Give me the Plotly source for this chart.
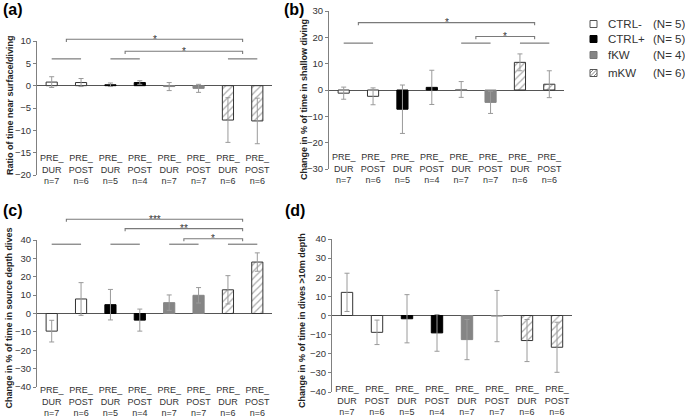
import plotly.graph_objects as go

# ---------------- data ----------------
groups = ["CTRL-", "CTRL+", "fKW", "mKW"]
group_N = [5, 5, 4, 6]
periods = ["PRE_<br>DUR", "PRE_<br>POST"]
n_per_bar = [7, 6, 5, 4, 7, 7, 6, 6]

a_mean = [0.8, 0.7, 0.2, 0.7, -0.2, -0.6, -7.7, -7.9]
a_err = [1.2, 0.9, 0.4, 0.4, 0.9, 0.9, 5.0, 5.1]
b_mean = [-1.2, -2.4, -7.3, 1.0, 0.2, -4.7, 10.5, 2.2]
b_err = [2.3, 3.2, 9.2, 6.5, 3.0, 4.2, 3.2, 5.1]
c_mean = [-9.6, 7.9, 4.8, -3.6, 5.9, 9.9, 12.9, 28.0]
c_err = [5.9, 8.9, 8.3, 6.0, 4.2, 4.2, 7.7, 5.0]
d_mean = [12.1, -8.8, -1.7, -9.1, -12.6, -0.3, -13.1, -16.6]
d_err = [10.0, 6.4, 12.6, 9.6, 10.5, 13.4, 11.0, 13.1]

# significance: short pair lines (bar index pairs) and brackets (x0, x1, y, label)
a_pairs, a_pair_y = [(0, 1), (2, 3), (6, 7)], 6.0
a_brackets = [(0.5, 6.5, 10.4, "*"), (2.5, 6.5, 7.7, "*")]
b_pairs, b_pair_y = [(0, 1), (4, 5), (6, 7)], 17.8
b_brackets = [(0.5, 6.5, 25.6, "*"), (4.5, 6.5, 20.3, "*")]
c_pairs, c_pair_y = [(0, 1), (2, 3), (4, 5), (6, 7)], 37.7
c_brackets = [(0.5, 6.5, 51.3, "***"), (2.5, 6.5, 46.2, "**"), (4.5, 6.5, 40.7, "*")]
d_pairs, d_pair_y = [], 0
d_brackets = []

# ---------------- layout config ----------------
W, H = 685, 417
FONT = "Liberation Sans, Arial, sans-serif"

panels = [
    dict(mean=a_mean, err=a_err, rng=[-20, 10], dt=5, label="(a)",
         title="Ratio of time near surface/diving", title_xy=(10, 105),
         xpx=[37, 272], ypx=[41, 175], labtop=151, lab_xy=(1, 10),
         pairs=a_pairs, pair_y=a_pair_y, brackets=a_brackets, drop=0.6),
    dict(mean=b_mean, err=b_err, rng=[-30, 30], dt=10, label="(b)",
         title="Change in % of time in shallow diving", title_xy=(304, 100),
         xpx=[329, 564], ypx=[11, 169], labtop=150, lab_xy=(282, 10),
         pairs=b_pairs, pair_y=b_pair_y, brackets=b_brackets, drop=1.0),
    dict(mean=c_mean, err=c_err, rng=[-40, 40], dt=10, label="(c)",
         title="Change in % of time in source depth dives", title_xy=(8.5, 318),
         xpx=[37, 272], ypx=[240, 387], labtop=383, lab_xy=(1, 211),
         pairs=c_pairs, pair_y=c_pair_y, brackets=c_brackets, drop=1.4),
    dict(mean=d_mean, err=d_err, rng=[-40, 40], dt=10, label="(d)",
         title="Change in % of time in dives >10m depth", title_xy=(302, 321),
         xpx=[332, 572], ypx=[239, 392], labtop=382, lab_xy=(283, 211),
         pairs=d_pairs, pair_y=d_pair_y, brackets=d_brackets, drop=1.4),
]

styles = [
    dict(color="white", line=dict(color="#333333", width=1)),
    dict(color="black", line=dict(color="black", width=1)),
    dict(color="#858585", line=dict(color="#858585", width=1)),
    dict(color="white", line=dict(color="#333333", width=1),
         pattern=dict(shape="/", fgcolor="#555555", bgcolor="white", size=5, solidity=0.25)),
]
legend_swatch = [("white", "#555555"), ("black", "black"), ("#858585", "#777777"), ("white", "#555555")]


def px(xp):
    return xp / W


def py(yp):
    return 1 - yp / H


fig = go.Figure()
shapes, annotations = [], []
layout = {}

for i, p in enumerate(panels):
    sfx = "" if i == 0 else str(i + 1)
    xa, ya = "x" + sfx, "y" + sfx
    for g, name in enumerate(groups):
        idx = [2 * g, 2 * g + 1]
        fig.add_trace(go.Bar(
            x=idx, y=[p["mean"][k] for k in idx],
            error_y=dict(type="data", array=[p["err"][k] for k in idx],
                         color="#9a9a9a", thickness=1, width=2.5),
            width=0.38, marker=styles[g], name=name, showlegend=False,
            xaxis=xa, yaxis=ya, cliponaxis=False,
        ))

    lo, hi = p["rng"]
    xdom = [px(p["xpx"][0]), px(p["xpx"][1])]
    ydom = [py(p["ypx"][1]), py(p["ypx"][0])]
    ticktext = [periods[k % 2] + "<br>n=" + str(n_per_bar[k]) for k in range(8)]
    layout["xaxis" + sfx] = dict(
        domain=xdom, range=[-0.5, 7.5], anchor="free", position=py(p["labtop"]),
        tickvals=list(range(8)), ticktext=ticktext, showline=False, ticks="",
        showgrid=False, zeroline=False, automargin=False,
        tickfont=dict(size=9, color="#333333", family=FONT),
    )
    layout["yaxis" + sfx] = dict(
        domain=ydom, range=[lo, hi], anchor=xa, automargin=False,
        tickvals=list(range(lo, hi + 1, p["dt"])),
        showline=True, linecolor="#808080", linewidth=1,
        ticks="outside", ticklen=3, tickcolor="#808080",
        showgrid=False, zeroline=True, zerolinecolor="#555555", zerolinewidth=1,
        tickfont=dict(size=9.5, color="#333333", family=FONT),
    )
    # axis title (rotated, placed precisely)
    annotations.append(dict(x=px(p["title_xy"][0]), y=py(p["title_xy"][1]),
                            xref="paper", yref="paper", text=p["title"], textangle=-90,
                            showarrow=False, xanchor="center", yanchor="middle",
                            font=dict(size=9, family=FONT, color="#222222", weight="bold")))

    def yd(v, lo=lo, hi=hi):
        return (v - lo) / (hi - lo)

    yref = ya + " domain"
    for (s, e) in p["pairs"]:
        shapes.append(dict(type="line", xref=xa, yref=yref, x0=s, x1=e,
                           y0=yd(p["pair_y"]), y1=yd(p["pair_y"]),
                           line=dict(color="#7a7a7a", width=1.2)))
    for (x0, x1, yv, lab) in p["brackets"]:
        yb, yt = yd(yv - p["drop"]), yd(yv)
        shapes.append(dict(type="path", xref=xa, yref=yref,
                           path=f"M{x0},{yb} L{x0},{yt} L{x1},{yt} L{x1},{yb}",
                           line=dict(color="#7a7a7a", width=1.1)))
        annotations.append(dict(x=(x0 + x1) / 2, y=yt, xref=xa, yref=yref,
                                text=lab, showarrow=False, yanchor="middle",
                                font=dict(size=10, color="#333333", family=FONT)))

    annotations.append(dict(x=px(p["lab_xy"][0]), y=py(p["lab_xy"][1]),
                            xref="paper", yref="paper", text=p["label"], showarrow=False,
                            xanchor="left", yanchor="middle",
                            font=dict(size=16, color="black", family=FONT, weight="bold")))

# ---------------- legend (drawn manually for small square swatches) ----------------
leg_rows = [24, 39, 55, 73]
sw_x0, sw_x1, sw_h = 590, 597, 3.5
name_x, n_x = 606, 651

for g in range(4):
    r = leg_rows[g]
    fill, line = legend_swatch[g]
    shapes.append(dict(type="rect", xref="paper", yref="paper",
                       x0=px(sw_x0), x1=px(sw_x1), y0=py(r + sw_h), y1=py(r - sw_h),
                       fillcolor=fill, line=dict(color=line, width=1)))
    if styles[g].get("pattern"):
        segs = [((sw_x0, r), (sw_x0 + sw_h, r - sw_h)),
                ((sw_x0, r + sw_h), (sw_x1, r - sw_h)),
                ((sw_x0 + sw_h, r + sw_h), (sw_x1, r))]
        path = " ".join(f"M{px(a[0])},{py(a[1])} L{px(b[0])},{py(b[1])}" for a, b in segs)
        shapes.append(dict(type="path", xref="paper", yref="paper", path=path,
                           line=dict(color="#666666", width=0.8)))
    annotations.append(dict(x=px(name_x), y=py(r), xref="paper", yref="paper",
                            text=groups[g], showarrow=False, xanchor="left", yanchor="middle",
                            font=dict(size=11.5, color="#333333", family=FONT)))
    annotations.append(dict(x=px(n_x), y=py(r), xref="paper", yref="paper",
                            text="(N= %d)" % group_N[g], showarrow=False,
                            xanchor="left", yanchor="middle",
                            font=dict(size=11.5, color="#333333", family=FONT)))

fig.update_layout(
    **layout,
    width=W, height=H, margin=dict(l=0, r=0, t=0, b=0, pad=0),
    paper_bgcolor="white", plot_bgcolor="white",
    barmode="overlay", shapes=shapes, annotations=annotations,
    font=dict(family=FONT, color="#333333"),
    showlegend=False,
)

fig.write_html("out.html", config={"displayModeBar": False},
               post_script="document.body.style.margin='0px';")
